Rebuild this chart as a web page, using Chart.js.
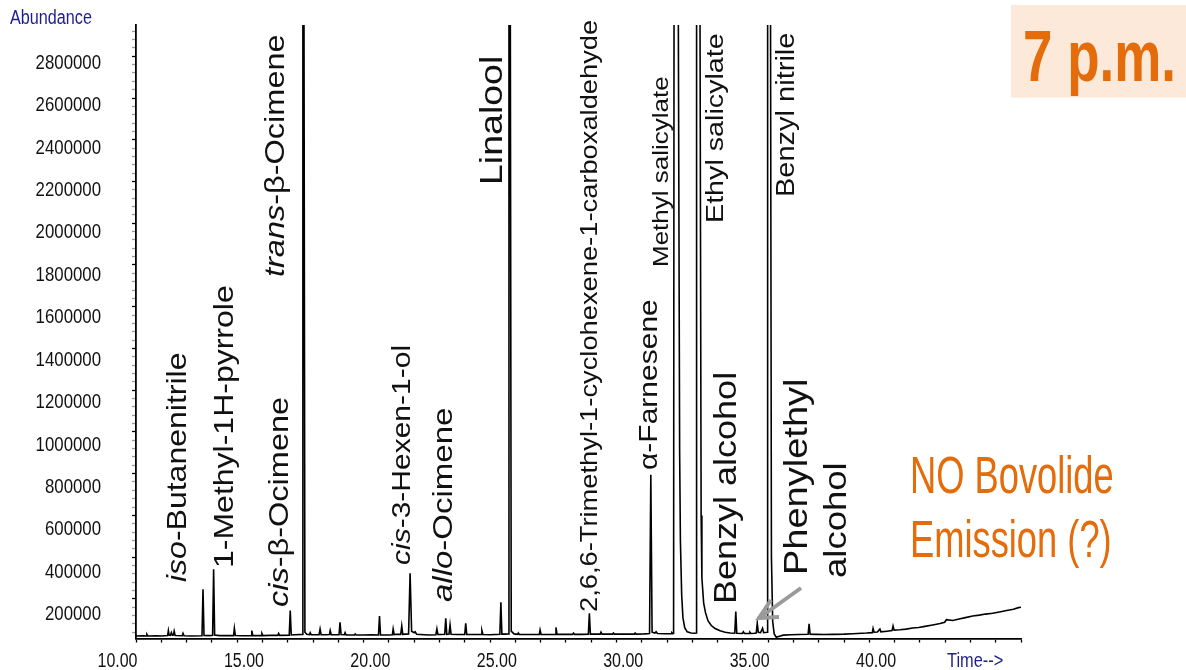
<!DOCTYPE html>
<html>
<head>
<meta charset="utf-8">
<script src="https://cdn.jsdelivr.net/npm/chart.js@4.4.1/dist/chart.umd.min.js"></script>
<style>
  html, body { margin: 0; padding: 0; background: #fff; overflow: hidden; }
  #wrap { width: 1186px; height: 670px; position: relative; }
</style>
</head>
<body>
<div id="wrap"><canvas id="chart" width="1186" height="670"></canvas></div>
<script>
// Total ion chromatogram, 7 p.m. headspace sample
// retention time (min)
const retentionTime = [
  10.00, 10.30, 10.40, 10.43, 10.47, 10.80, 11.00, 11.25, 11.28, 11.31,
  11.36, 11.40, 11.44, 11.48, 11.51, 11.55, 11.83, 11.86, 11.90, 12.20,
  12.61, 12.65, 12.69, 12.90, 13.03, 13.07, 13.11, 13.30, 13.86, 13.89,
  13.93, 14.20, 14.55, 14.58, 14.62, 14.95, 14.98, 15.02, 15.30, 15.61,
  15.64, 15.68, 16.06, 16.10, 16.14, 16.30, 16.58, 16.60, 16.64, 16.68,
  16.75, 16.86, 16.89, 16.93, 17.24, 17.28, 17.32, 17.50, 17.65, 17.68,
  17.72, 18.03, 18.07, 18.11, 18.24, 18.27, 18.31, 18.64, 18.67, 18.71,
  19.00, 19.30, 19.59, 19.63, 19.67, 20.00, 20.14, 20.17, 20.21, 20.30,
  20.47, 20.51, 20.55, 20.78, 20.84, 20.90, 21.00, 21.04, 21.10, 21.40,
  21.60, 21.86, 21.90, 21.94, 22.05, 22.21, 22.25, 22.29, 22.38, 22.42,
  22.46, 22.70, 23.00, 23.04, 23.08, 23.40, 23.65, 23.68, 23.72, 24.00,
  24.39, 24.43, 24.47, 24.60, 24.73, 24.75, 24.80, 24.84, 24.95, 25.09,
  25.12, 25.16, 25.50, 25.95, 25.98, 26.02, 26.30, 26.58, 26.61, 26.65,
  27.00, 27.27, 27.30, 27.34, 27.60, 27.89, 27.93, 27.97, 28.20, 28.36,
  28.39, 28.43, 28.85, 28.88, 28.92, 29.40, 29.71, 29.74, 29.78, 30.10,
  30.31, 30.36, 30.41, 30.52, 30.57, 30.62, 30.90, 31.16, 31.19, 31.23,
  31.26, 31.28, 31.44, 31.50, 31.53, 31.58, 31.63, 31.70, 31.80, 31.95,
  32.10, 32.15, 32.17, 32.30, 32.35, 32.38, 32.45, 32.52, 32.62, 32.75,
  32.90, 33.10, 33.30, 33.50, 33.68, 33.72, 33.76, 33.98, 34.02, 34.06,
  34.25, 34.28, 34.32, 34.45, 34.53, 34.57, 34.61, 34.70, 34.78, 34.82,
  34.96, 34.98, 35.09, 35.13, 35.18, 35.24, 35.32, 35.45, 35.60, 35.90,
  36.20, 36.58, 36.62, 36.66, 36.90, 37.20, 37.56, 38.00, 38.35, 38.70,
  38.89, 39.12, 39.15, 39.19, 39.32, 39.42, 39.46, 39.70, 39.90, 39.94,
  39.98, 40.21, 40.45, 40.72, 40.95, 41.20, 41.51, 41.80, 41.98, 42.05,
  42.30, 42.55, 42.80, 43.09, 43.35, 43.60, 43.88, 44.15, 44.43, 44.70,
  44.90, 45.00
];
// detector response (counts)
const abundance = [
  22000, 23000, 22000, 30000, 22000, 23000, 22000, 24000, 48000, 26000,
  25000, 38000, 25000, 26000, 45000, 24000, 23000, 35000, 23000, 22000,
  23000, 246000, 25000, 24000, 25000, 342000, 27000, 24000, 24000, 59000,
  24000, 23000, 24000, 48000, 24000, 24000, 34000, 24000, 25000, 25000,
  34000, 25000, 26000, 144000, 27000, 28000, 30000, 3300000, 3300000, 40000,
  30000, 29000, 38000, 28000, 28000, 55000, 28000, 28000, 29000, 48000,
  28000, 28000, 88000, 29000, 28000, 38000, 27000, 27000, 32000, 27000,
  27000, 28000, 27000, 118000, 27000, 27000, 28000, 56000, 29000, 30000,
  30000, 70000, 30000, 32000, 323000, 45000, 38000, 42000, 30000, 28000,
  27000, 28000, 56000, 29000, 29000, 30000, 107000, 30000, 31000, 75000,
  30000, 29000, 29000, 83000, 29000, 29000, 29000, 48000, 29000, 28000,
  30000, 184000, 31000, 31000, 32000, 3300000, 3300000, 45000, 32000, 30000,
  36000, 29000, 29000, 29000, 51000, 29000, 29000, 30000, 63000, 30000,
  30000, 30000, 36000, 30000, 30000, 31000, 131000, 31000, 31000, 31000,
  40000, 31000, 31000, 36000, 31000, 31000, 31000, 36000, 31000, 32000,
  34000, 795000, 40000, 36000, 42000, 34000, 33000, 33000, 38000, 33000,
  34000, 3300000, 3300000, 900000, 480000, 220000, 110000, 62000, 42000, 36000,
  35000, 36000, 3300000, 3300000, 600000, 300000, 180000, 135000, 95000, 72000,
  58000, 47000, 40000, 36000, 35000, 139000, 35000, 34000, 42000, 34000,
  34000, 40000, 34000, 35000, 36000, 83000, 40000, 38000, 59000, 38000,
  40000, 3300000, 3300000, 400000, 90000, 32000, 16000, 21000, 26000, 28000,
  29000, 30000, 80000, 31000, 30000, 29000, 30000, 31000, 33000, 35000,
  36000, 38000, 58000, 40000, 41000, 55000, 42000, 45000, 48000, 70000,
  50000, 52000, 55000, 60000, 63000, 68000, 75000, 82000, 88000, 100000,
  96000, 103000, 110000, 118000, 122000, 127000, 131000, 137000, 144000, 150000,
  158000, 160000
];
// labelled axis ticks
const timeTickLabels = [10, 15, 20, 25, 30, 35, 40];
const abundanceTickLabels = [200000, 400000, 600000, 800000, 1000000, 1200000, 1400000,
  1600000, 1800000, 2000000, 2200000, 2400000, 2600000, 2800000];
const abundanceMinorStep = 40000;

// compound names (<i>…</i> marks italic prefixes)
const compoundNames = [
  '<i>iso</i>-Butanenitrile',
  '1-Methyl-1H-pyrrole',
  '<i>cis</i>-β-Ocimene',
  '<i>trans</i>-β-Ocimene',
  '<i>cis</i>-3-Hexen-1-ol',
  '<i>allo</i>-Ocimene',
  'Linalool',
  '2,6,6-Trimethyl-1-cyclohexene-1-carboxaldehyde',
  'α-Farnesene',
  'Methyl salicylate',
  'Ethyl salicylate',
  'Benzyl nitrile',
  'Benzyl alcohol',
  'Phenylethyl',
  'alcohol'
];
// vertical label placement: baseline x, start y (text runs upward), font size
const compoundLabelLayout = [
  [186, 582, 32], [233, 568, 32], [288, 607, 32.5], [284, 277, 32.5],
  [410, 565, 30], [452, 602, 33], [502, 185, 37.5], [597, 612, 27.3],
  [657, 470, 30], [668, 267, 26], [723, 223, 28.7], [794, 197, 29],
  [736, 604, 36], [807, 575, 38], [846, 578, 36.5]
];

const SANS = '"Liberation Sans", Arial, sans-serif';
const ORANGE = '#E46C0A';
const NAVY = '#1E1E8C';

function textAt(ctx, str, x, y, font, color, sx, align) {
  ctx.save();
  ctx.translate(x, y);
  ctx.scale(sx, 1);
  ctx.font = font;
  ctx.fillStyle = color;
  ctx.textAlign = align || 'left';
  ctx.textBaseline = 'alphabetic';
  ctx.fillText(str, 0, 0);
  ctx.restore();
}

function verticalLabel(ctx, markup, x, y, size) {
  const parts = markup.split(/(<i>.*?<\/i>)/).filter(s => s.length);
  ctx.save();
  ctx.translate(x, y);
  ctx.rotate(-Math.PI / 2);
  ctx.scale(1, 0.86);
  ctx.fillStyle = '#111';
  ctx.textAlign = 'left';
  ctx.textBaseline = 'alphabetic';
  let pos = 0;
  for (const p of parts) {
    const italic = p.startsWith('<i>');
    const s = italic ? p.slice(3, -4) : p;
    ctx.font = (italic ? 'italic ' : '') + size + 'px ' + SANS;
    ctx.fillText(s, pos, 0);
    pos += ctx.measureText(s).width;
  }
  ctx.restore();
}

// condensed tick labels, placed through the chart's own scales
const tickText = {
  id: 'tickText',
  afterDraw(chart) {
    const ctx = chart.ctx;
    const xs = chart.scales.x, ys = chart.scales.y;
    timeTickLabels.forEach(v => {
      textAt(ctx, v.toFixed(2), xs.getPixelForValue(v) + 1.5, 667, '19.5px ' + SANS, '#111', 0.82, 'right');
    });
    abundanceTickLabels.forEach((v, i) => {
      // the label column runs a touch taller than the tick column
      textAt(ctx, String(v), 101, ys.getPixelForValue(v) + 21.5 - 0.7 * i, '21px ' + SANS, '#111', 0.8, 'right');
    });
  }
};

const annotations = {
  id: 'annotations',
  afterDatasetsDraw(chart) {
    const ctx = chart.ctx;
    compoundNames.forEach((name, i) => {
      const [x, y, s] = compoundLabelLayout[i];
      verticalLabel(ctx, name, x, y, s);
    });
    // axis captions
    textAt(ctx, 'Abundance', 10, 24, '19.5px ' + SANS, NAVY, 0.83);
    textAt(ctx, 'Time-->', 947, 666.5, '20px ' + SANS, NAVY, 0.82);
    // pointer to the trace near 34.6 min
    ctx.save();
    ctx.strokeStyle = '#9A9A9A';
    ctx.lineWidth = 4;
    ctx.lineCap = 'butt';
    ctx.beginPath();
    ctx.moveTo(801, 588);
    ctx.lineTo(762, 616);
    ctx.stroke();
    ctx.beginPath();
    ctx.moveTo(771, 600);
    ctx.lineTo(759, 618);
    ctx.lineTo(779, 617);
    ctx.stroke();
    ctx.restore();
    // note
    textAt(ctx, 'NO Bovolide', 910, 492.7, '52.6px ' + SANS, ORANGE, 0.69);
    textAt(ctx, 'Emission (?)', 910, 556.7, '52.6px ' + SANS, ORANGE, 0.69);
    // time-of-day badge
    ctx.save();
    ctx.fillStyle = '#FDE9D9';
    ctx.fillRect(1011, 5, 175, 92.7);
    ctx.restore();
    textAt(ctx, '7 p.m.', 1023, 80.7, 'bold 73px ' + SANS, ORANGE, 0.725);
  }
};

new Chart(document.getElementById('chart'), {
  type: 'line',
  data: {
    datasets: [{
      data: retentionTime.map((t, i) => ({ x: t, y: abundance[i] })),
      borderColor: '#000',
      borderWidth: 1.6,
      pointRadius: 0,
      tension: 0,
      fill: false
    }]
  },
  options: {
    responsive: false,
    animation: false,
    events: [],
    plugins: { legend: { display: false }, tooltip: { enabled: false } },
    layout: { padding: { left: 0, right: 165, top: 25, bottom: 0 } },
    scales: {
      x: {
        type: 'linear',
        min: 10,
        max: 45,
        afterFit(scale) { scale.height = 31.5; },
        ticks: { stepSize: 1, autoSkip: false, maxRotation: 0, includeBounds: false, display: false },
        grid: { drawOnChartArea: false, tickLength: 4, tickColor: '#000', tickWidth: 1.3 },
        border: { color: '#000', width: 1.8 }
      },
      y: {
        type: 'linear',
        min: 10000,
        max: 2950000,
        afterFit(scale) { scale.width = 136; },
        afterBuildTicks(scale) {
          const t = [];
          for (let v = abundanceMinorStep; v <= scale.max; v += abundanceMinorStep) t.push({ value: v });
          scale.ticks = t;
        },
        ticks: { autoSkip: false, display: false },
        grid: {
          drawOnChartArea: false,
          tickLength: 4,
          tickWidth: 1.3,
          tickColor: c => abundanceTickLabels.includes(c.tick && c.tick.value) ? '#000' : '#9a9a9a'
        },
        border: { color: '#000', width: 1.8 }
      }
    }
  },
  plugins: [annotations, tickText]
});
</script>
</body>
</html>
